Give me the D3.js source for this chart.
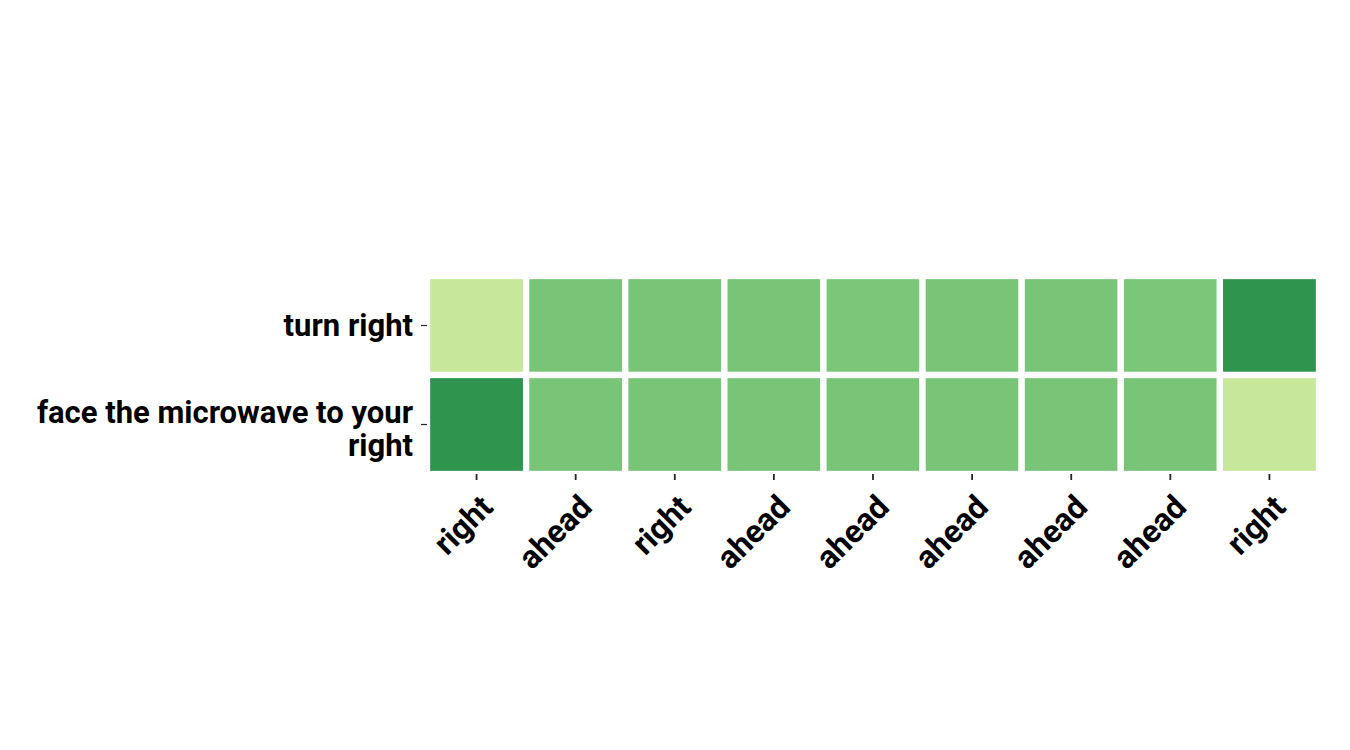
<!DOCTYPE html>
<html><head><meta charset="utf-8">
<script src="https://cdn.jsdelivr.net/npm/d3@7"></script>
<style>body{margin:0;background:#fff}svg{display:block}text{font-family:Roboto,"Noto Sans",sans-serif;font-weight:bold;fill:#000}</style>
</head><body><svg id="c" width="1350" height="750"></svg>
<script>
const xLabels = ["right","ahead","right","ahead","ahead","ahead","ahead","ahead","right"];
const yLabels = [["turn right"],["face the microwave to your","right"]];
const row1 = [0.0, 0.5, 0.5, 0.5, 0.48, 0.5, 0.5, 0.48, 1.0];
const row2 = [1.0, 0.5, 0.5, 0.5, 0.5, 0.5, 0.5, 0.5, 0.0];
const rows = [row1, row2];

const svg = d3.select("#c");
const pL = 427, pR = 1319, pT = 276, pB = 474;
const x = d3.scaleBand().domain(d3.range(xLabels.length)).range([pL, pR]);
const y = d3.scaleBand().domain(d3.range(rows.length)).range([pT, pB]);
const t = d3.scaleLinear().domain([0, 1]).range([0.3, 0.7]);
const color = v => d3.interpolateYlGn(t(v));

const cells = [];
rows.forEach((r, i) => r.forEach((v, j) => cells.push({i, j, v})));
svg.append("g").selectAll("rect").data(cells).join("rect")
  .attr("x", d => x(d.j)).attr("y", d => y(d.i))
  .attr("width", x.bandwidth()).attr("height", y.bandwidth())
  .attr("fill", d => color(d.v))
  .attr("stroke", "#fff").attr("stroke-width", 6.3);

// x axis
const xg = svg.append("g");
xg.selectAll("line").data(xLabels).join("line")
  .attr("x1", (d, j) => x(j) + x.bandwidth() / 2).attr("x2", (d, j) => x(j) + x.bandwidth() / 2)
  .attr("y1", pB).attr("y2", pB + 6).attr("stroke", "#262626").attr("stroke-width", 1.8);
xg.selectAll("text").data(xLabels).join("text")
  .attr("transform", (d, j) => `translate(${x(j) + x.bandwidth() / 2 + 18},${pB + 35}) rotate(-45)`)
  .attr("text-anchor", "end")
  .style("font-size", "32px").text(d => d);

// y axis
const yg = svg.append("g");
yg.selectAll("line").data(yLabels).join("line")
  .attr("x1", pL - 6).attr("x2", pL)
  .attr("y1", (d, i) => y(i) + y.bandwidth() / 2).attr("y2", (d, i) => y(i) + y.bandwidth() / 2)
  .attr("stroke", "#262626").attr("stroke-width", 1.2);
yg.selectAll("text").data(yLabels).join("text")
  .attr("y", (d, i) => y(i) + y.bandwidth() / 2)
  .attr("text-anchor", "end").style("font-size", "31px")
  .each(function(lines) {
    const n = lines.length, lh = 33.5;
    d3.select(this).selectAll("tspan").data(lines).join("tspan")
      .attr("x", pL - 14)
      .attr("dy", (l, k) => k === 0 ? (n === 1 ? 10 : -2) : lh)
      .text(l => l);
  });
</script></body></html>
